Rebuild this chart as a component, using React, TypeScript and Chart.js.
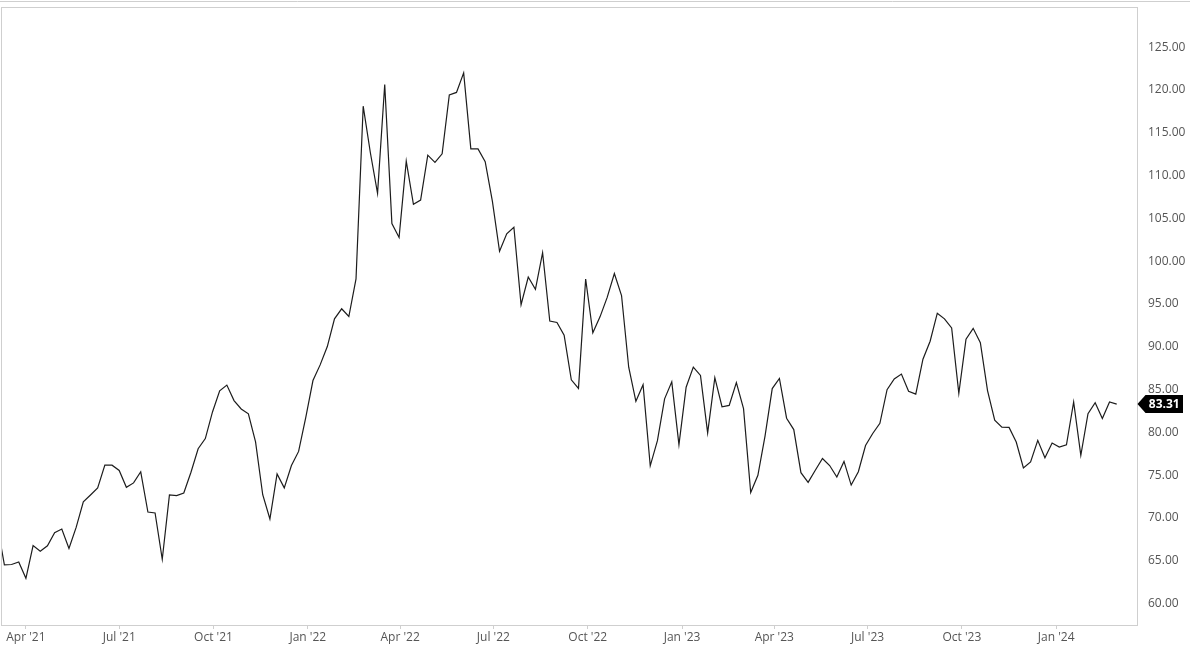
import React, { useEffect, useRef } from "react";
import { Chart, registerables } from "chart.js";

Chart.register(...registerables);

// Weekly observations, first point dated START_DATE, one week apart
const START_DATE = "2021-03-04";
const PRICES = [
  69.22, 64.53, 64.57, 64.86, 62.95, 66.77, 66.11, 66.76, 68.28, 68.71,
  66.44, 68.9, 71.89, 72.69, 73.51, 76.18, 76.17, 75.55, 73.59, 74.1,
  75.4, 70.7, 70.59, 65.18, 72.7, 72.61, 72.92, 75.34, 78.09, 79.28,
  82.39, 84.86, 85.53, 83.72, 82.74, 82.17, 78.89, 72.72, 69.88, 75.15,
  73.52, 76.14, 77.78, 81.75, 86.06, 87.89, 90.03, 93.27, 94.44, 93.54,
  97.93, 118.11, 112.67, 107.93, 120.65, 104.39, 102.78, 111.7, 106.65, 107.14,
  112.39, 111.55, 112.55, 119.43, 119.72, 122.01, 113.12, 113.12, 111.63, 107.02,
  101.16, 103.2, 103.97, 94.92, 98.15, 96.72, 100.99, 93.02, 92.84, 91.35,
  86.15, 85.14, 97.92, 91.63, 93.5, 95.77, 98.57, 95.99, 87.62, 83.63,
  85.57, 76.1, 79.04, 83.92, 85.91, 78.57, 85.28, 87.63, 86.66, 79.94,
  86.39, 83.0, 83.16, 85.83, 82.78, 72.97, 74.99, 79.6, 85.12, 86.31,
  81.66, 80.33, 75.3, 74.17, 75.58, 76.95, 76.13, 74.79, 76.61, 73.85,
  75.41, 78.47, 79.87, 81.07, 84.99, 86.24, 86.81, 84.8, 84.48, 88.55,
  90.65, 93.93, 93.27, 92.2, 84.58, 90.89, 92.16, 90.48, 84.89, 81.43,
  80.61, 80.58, 78.88, 75.84, 76.55, 79.07, 77.04, 78.76, 78.29, 78.56,
  83.55, 77.33, 82.19, 83.47, 81.62, 83.55, 83.31,
];

const X_TICK_DATES = [
  "2021-04-01", "2021-07-01", "2021-10-01", "2022-01-01", "2022-04-01", "2022-07-01",
  "2022-10-01", "2023-01-01", "2023-04-01", "2023-07-01", "2023-10-01", "2024-01-01",
];
const X_TICK_LABELS = [
  "Apr '21", "Jul '21", "Oct '21", "Jan '22", "Apr '22", "Jul '22",
  "Oct '22", "Jan '23", "Apr '23", "Jul '23", "Oct '23", "Jan '24",
];
const Y_TICKS = [60, 65, 70, 75, 80, 85, 90, 95, 100, 105, 110, 115, 120, 125];

// visible window, in days after START_DATE
const X_MIN = 3.7;
const X_MAX = 1111.8;
const Y_MIN = 57.5;
const Y_MAX = 129.7;

const DAY = 86400000;
const startMs = Date.parse(START_DATE + "T00:00:00Z");
const dayOf = (iso: string) => (Date.parse(iso + "T00:00:00Z") - startMs) / DAY;

const framePlugin = {
  id: "frame",
  afterDraw(chart: any) {
    const { ctx, chartArea } = chart;
    const { left, right, top, bottom } = chartArea;
    ctx.save();
    ctx.strokeStyle = "#cfcfcf";
    ctx.lineWidth = 1;
    ctx.beginPath();
    ctx.moveTo(0, 1.5);
    ctx.lineTo(1190, 1.5);
    ctx.stroke();
    ctx.strokeRect(left + 0.5, top + 0.5, right - left, bottom - top);

    // last value marker
    const last = PRICES[PRICES.length - 1];
    const y = chart.scales.y.getPixelForValue(last);
    const x0 = right + 0.5;
    const h = 9;
    ctx.fillStyle = "#000";
    ctx.beginPath();
    ctx.moveTo(x0, y);
    ctx.lineTo(x0 + 8, y - h);
    ctx.lineTo(1183, y - h);
    ctx.lineTo(1183, y + h);
    ctx.lineTo(x0 + 8, y + h);
    ctx.closePath();
    ctx.fill();
    ctx.fillStyle = "#fff";
    ctx.font = "bold 12px 'Open Sans'";
    ctx.textAlign = "center";
    ctx.textBaseline = "middle";
    ctx.fillText(last.toFixed(2), (x0 + 8 + 1183) / 2, y + 0.5);
    ctx.restore();
  },
};

export default function App() {
  const ref = useRef<HTMLCanvasElement | null>(null);

  useEffect(() => {
    document.body.style.margin = "0";
    const canvas = ref.current;
    if (!canvas) return;
    const points = PRICES.map((v, i) => ({ x: i * 7, y: v }));
    const xTickDays = X_TICK_DATES.map(dayOf);

    const chart = new Chart(canvas, {
      type: "line",
      data: {
        datasets: [
          {
            data: points,
            borderColor: "#1c1c1c",
            borderWidth: 1.2,
            pointRadius: 0,
            tension: 0,
            fill: false,
            clip: 0,
          } as any,
        ],
      },
      options: {
        animation: false,
        responsive: false,
        devicePixelRatio: 1,
        events: [],
        layout: { padding: { left: 1, top: 7, right: 0, bottom: 0 } },
        plugins: { legend: { display: false }, tooltip: { enabled: false } },
        scales: {
          x: {
            type: "linear",
            min: X_MIN,
            max: X_MAX,
            afterBuildTicks: (scale: any) => {
              scale.ticks = xTickDays.map((v) => ({ value: v }));
            },
            afterFit: (scale: any) => {
              scale.height = 35;
              scale.paddingLeft = 0;
              scale.paddingRight = 0;
            },
            grid: {
              drawOnChartArea: false,
              drawTicks: true,
              tickLength: 4,
              color: "#cfcfcf",
            },
            border: { display: false },
            ticks: {
              autoSkip: false,
              maxRotation: 0,
              padding: 1,
              color: "#555",
              font: { family: "'Open Sans'", size: 12 },
              callback: (_v: any, i: number) => X_TICK_LABELS[i],
            },
          },
          y: {
            type: "linear",
            position: "right",
            min: Y_MIN,
            max: Y_MAX,
            afterBuildTicks: (scale: any) => {
              scale.ticks = Y_TICKS.map((v) => ({ value: v }));
            },
            afterFit: (scale: any) => {
              scale.width = 63;
              scale.paddingTop = 0;
              scale.paddingBottom = 0;
            },
            grid: { display: false, drawTicks: false },
            border: { display: false },
            ticks: {
              padding: 11,
              color: "#555",
              font: { family: "'Open Sans'", size: 12 },
              callback: (v: any) => Number(v).toFixed(2),
            },
          },
        },
      },
      plugins: [framePlugin],
    });
    return () => chart.destroy();
  }, []);

  return (
    <div style={{ position: "fixed", left: 0, top: 0, width: 1200, height: 660, background: "#fff" }}>
      <canvas ref={ref} width={1200} height={660} style={{ width: 1200, height: 660, display: "block" }} />
    </div>
  );
}
